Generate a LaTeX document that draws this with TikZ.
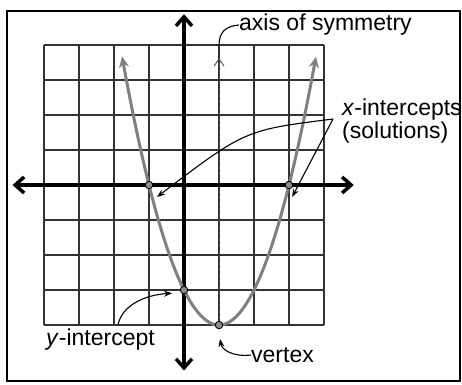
\documentclass[tikz,border=0pt]{standalone}
\usepackage{fontspec}
\setmainfont{Liberation Sans}
\usetikzlibrary{arrows.meta}
\tikzset{
  gridline/.style={black!80, line width=1.3pt},
  axisline/.style={black, line width=3.5pt, {Straight Barb[length=9pt,width=16pt]}-{Straight Barb[length=9pt,width=16pt]}},
  curveline/.style={black!50, line width=3pt, {Stealth[length=11pt,width=10pt,fill=black!35]}-{Stealth[length=11pt,width=10pt,fill=black!35]}},
  symline/.style={black!70, line width=0.9pt, dashed, -{Straight Barb[length=7pt,width=10pt]}},
  dotnode/.style={circle, draw=black, fill=black!45, line width=0.9pt, inner sep=0pt, minimum size=7.5pt},
  lbl/.style={font=\fontsize{23}{26}\selectfont, inner sep=0pt, anchor=west},
  leader/.style={black, line width=1.1pt},
  leaderarrow/.style={black, line width=1.1pt, -{Stealth[length=8pt,width=6pt]}}
}
\begin{document}
\begin{tikzpicture}[x=1pt,y=-1pt]
\useasboundingbox (0,0) rectangle (462,384);
\fill[white] (0,0) rectangle (462,384);
\draw[line width=2.5pt] (7,11) rectangle (460,381);
\begin{scope}[shift={(184pt,-185pt)}, x=35pt, y=35pt]
  % grid
  \foreach \i in {-4,...,4} {
    \draw[gridline] (\i,-4) -- (\i,4);
    \draw[gridline] (-4,\i) -- (4,\i);
  }
  % axis of symmetry
  \coordinate (symbot) at (1,-4);
  \coordinate (symtop) at (1,3.62);
  \draw[symline] (symbot) -- (symtop);
  \coordinate (symlead) at (1,4);
  % axes
  \coordinate (xa) at (-4.9,0);
  \coordinate (xb) at (4.85,0);
  \coordinate (ya) at (0,-5.3);
  \coordinate (yb) at (0,4.88);
  \draw[axisline] (xa) -- (xb);
  \draw[axisline] (ya) -- (yb);
  % parabola y = x^2 - 2x - 3
  \draw[curveline] plot[domain=-1.77:3.77, samples=80, smooth] (\x, {\x*\x-2*\x-3});
  % points
  \node[dotnode] (xl) at (-1,0) {};
  \node[dotnode] (xr) at (3,0) {};
  \node[dotnode] (yi) at (0,-3) {};
  \node[dotnode] (vx) at (1,-4) {};
  \coordinate (xlt) at (-0.77,-0.34);
  \coordinate (xrt) at (3.09,-0.34);
  \coordinate (yit) at (-0.34,-3.09);
  \coordinate (vxt) at (1.03,-4.4);
\end{scope}
% labels
\node[lbl] (axl) at (239,25) {axis of symmetry};
\node[lbl] (xil) at (342,110) {\textit{x}-intercepts};
\node[lbl] (sol) at (342,133) {(solutions)};
\node[lbl] (yil) at (46,340) {\textit{y}-intercept};
\node[lbl] (vxl) at (251,355) {vertex};
% leaders
\coordinate (xsrc) at (333,119);
\draw[leader] (axl.west) .. controls (226,26) and (219,32) .. (symlead);
\draw[leaderarrow] (xsrc) .. controls (245,130) .. (xlt);
\draw[leaderarrow] (xsrc) -- (xrt);
\draw[leaderarrow] (118,325) .. controls (122,305) and (145,295) .. (yit);
\draw[leaderarrow] (vxl.west) .. controls (233,357) and (222,350) .. (vxt);
\end{tikzpicture}
\end{document}
